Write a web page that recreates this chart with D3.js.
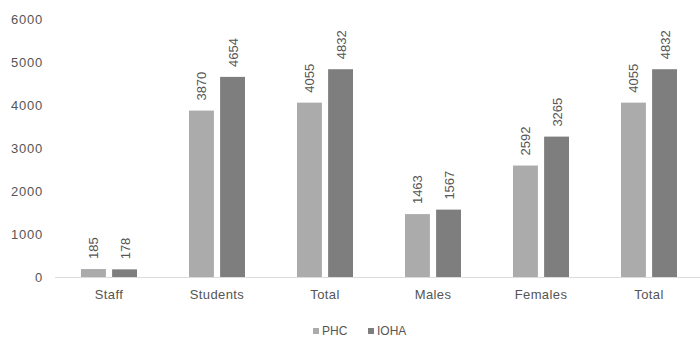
<!DOCTYPE html>
<html>
<head>
<meta charset="utf-8">
<script src="https://cdn.jsdelivr.net/npm/d3@7"></script>
<style>
  html, body { margin: 0; padding: 0; background: #fff; }
  svg { display: block; font-family: "Liberation Sans", Arial, sans-serif; }
</style>
</head>
<body>
<svg id="chart" width="700" height="343"></svg>
<script>
// Group labels along the x axis
const categories = ["Staff", "Students", "Total", "Males", "Females", "Total"];
// Series
const seriesNames = ["PHC", "IOHA"];
const phcValues  = [185, 3870, 4055, 1463, 2592, 4055];
const iohaValues = [178, 4654, 4832, 1567, 3265, 4832];
// Y axis ticks
const yTicks = [0, 1000, 2000, 3000, 4000, 5000, 6000];

const colors = { PHC: "#ababab", IOHA: "#7e7e7e" };

const svg = d3.select("#chart");
const plot = { left: 55, right: 703, top: 19, bottom: 277 };

const data = categories.map((c, i) => ({
  key: i,
  label: c,
  values: [
    { name: "PHC", value: phcValues[i] },
    { name: "IOHA", value: iohaValues[i] }
  ]
}));

const x0 = d3.scaleBand()
  .domain(data.map(d => d.key))
  .range([plot.left, plot.right])
  .paddingInner(0)
  .paddingOuter(0);

const x1 = d3.scaleBand()
  .domain(seriesNames)
  .range([x0.bandwidth() / 2 - 28, x0.bandwidth() / 2 + 28])
  .paddingInner(0.2);

const y = d3.scaleLinear()
  .domain([0, 6000])
  .range([plot.bottom, plot.top]);

// Y axis labels (no line, no tick marks)
const yAxis = d3.axisLeft(y).tickValues(yTicks).tickSize(0).tickPadding(0).tickFormat(d3.format("d"));
svg.append("g")
  .attr("transform", `translate(43,0)`)
  .call(yAxis)
  .call(g => g.select(".domain").remove())
  .call(g => g.selectAll("text")
    .attr("fill", "#555")
    .style("font-size", "13px")
    .style("letter-spacing", "0.8px"));

// Baseline
svg.append("line")
  .attr("x1", plot.left).attr("x2", 700)
  .attr("y1", y(0) + 0.5).attr("y2", y(0) + 0.5)
  .attr("stroke", "#dcdcdc").attr("stroke-width", 1);

// Bars
const groups = svg.append("g").selectAll("g")
  .data(data)
  .join("g")
  .attr("transform", d => `translate(${x0(d.key)},0)`);

groups.selectAll("rect")
  .data(d => d.values)
  .join("rect")
  .attr("x", d => x1(d.name))
  .attr("width", x1.bandwidth())
  .attr("y", d => y(d.value))
  .attr("height", d => y(0) - y(d.value))
  .attr("fill", d => colors[d.name]);

// Rotated value labels above each bar
groups.selectAll("text.val")
  .data(d => d.values)
  .join("text")
  .attr("class", "val")
  .attr("transform", d => `translate(${x1(d.name) + x1.bandwidth() / 2 + 5},${y(d.value) - 10}) rotate(-90)`)
  .attr("text-anchor", "start")
  .attr("fill", "#555")
  .style("font-size", "13px")
  .text(d => d.value);

// Category labels
const xAxis = d3.axisBottom(x0).tickSize(0).tickPadding(13).tickFormat(k => categories[k]);
svg.append("g")
  .attr("transform", `translate(0,${plot.bottom})`)
  .call(xAxis)
  .call(g => g.select(".domain").remove())
  .call(g => g.selectAll("text")
    .attr("fill", "#555")
    .style("font-size", "13px")
    .style("letter-spacing", "0.4px"));

// Legend
const legend = svg.append("g").attr("transform", "translate(313,331)");
const legendX = [0, 55];
seriesNames.forEach((name, i) => {
  const lg = legend.append("g").attr("transform", `translate(${legendX[i]},0)`);
  lg.append("rect")
    .attr("x", 0).attr("y", -3)
    .attr("width", 6).attr("height", 6)
    .attr("fill", colors[name]);
  lg.append("text")
    .attr("x", 9).attr("y", 0)
    .attr("dy", "0.35em")
    .attr("fill", "#555")
    .style("font-size", "12px")
    .text(name);
});
</script>
</body>
</html>
